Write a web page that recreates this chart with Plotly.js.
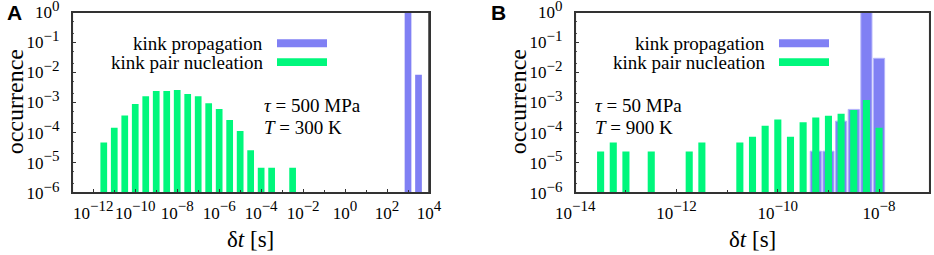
<!DOCTYPE html>
<html>
<head>
<meta charset="utf-8">
<script src="https://cdn.plot.ly/plotly-3.0.1.min.js"></script>
<style>
html,body{margin:0;padding:0;background:#fff;}
#chart{width:934px;height:255px;}
</style>
</head>
<body>
<div id="chart"></div>
<script>
// log10(δt / s) bin centres and occurrences
var aNucX = [-11.5,-11,-10.5,-10,-9.5,-9,-8.5,-8,-7.5,-7,-6.5,-6,-5.5,-5,-4.5,-4,-3.5,-2.5];
var aNucY = [4.7e-5,1.45e-4,3.7e-4,8.9e-4,1.6e-3,2.4e-3,2.4e-3,2.6e-3,1.9e-3,1.6e-3,9.4e-4,6.1e-4,2.6e-4,1.13e-4,2.6e-5,6.8e-6,6.8e-6,6.8e-6];
var aPropX = [3, 3.5];
var aPropY = [1, 8.3e-3];

var bNucX = [-13.5,-13.25,-13,-12.5,-11.75,-11.5,-10.75,-10.5,-10.25,-10,-9.75,-9.5,-9.25,-9,-8.75,-8.5,-8.25,-8];
var bNucY = [2.35e-5,4.7e-5,2.35e-5,2.35e-5,2.35e-5,4.7e-5,4.7e-5,7.3e-5,1.7e-4,2.7e-4,7.3e-5,2.2e-4,3.2e-4,3.6e-4,4.2e-4,5.6e-4,1.2e-3,1.45e-4];
var bPropX = [-9.25,-9,-8.75,-8.5,-8.25,-8];
var bPropY = [2.4e-5,2.4e-5,2.4e-4,5.9e-4,1,2.95e-2];

// tick positions and their exponent labels
var aXTickVals = [-12,-10,-8,-6,-4,-2,0,2,4];
var aXTickExp  = ['\u221212','\u221210','\u22128','\u22126','\u22124','\u22122','0','2','4'];
var bXTickVals = [-14,-12,-10,-8];
var bXTickExp  = ['\u221214','\u221212','\u221210','\u22128'];
var yTickVals  = [1e-6,1e-5,1e-4,1e-3,1e-2,1e-1,1];
var yTickExp   = ['\u22126','\u22125','\u22124','\u22123','\u22122','\u22121','0'];

var seriesNames = ['kink propagation','kink pair nucleation'];
var blue = '#8080f4';
var green = '#00f77c';
var FONT = 'Liberation Serif';

function powLabels(exps){
  return exps.map(function(e){ return '10<sup><span style="font-size:15px">' + e + '</span></sup>'; });
}

var data = [
  {type:'bar', x:aPropX, y:aPropY, width:0.32, xaxis:'x', yaxis:'y', name:seriesNames[0],
   marker:{color:blue, line:{width:0}}, showlegend:false},
  {type:'bar', x:aNucX, y:aNucY, width:0.32, xaxis:'x', yaxis:'y', name:seriesNames[1],
   marker:{color:green, line:{width:0}}, showlegend:false},
  {type:'bar', x:bPropX, y:bPropY, width:0.22, xaxis:'x2', yaxis:'y2', name:seriesNames[0],
   marker:{color:blue, line:{width:1, color:'#b4b4fa'}}, showlegend:false},
  {type:'bar', x:bNucX, y:bNucY, width:0.14, xaxis:'x2', yaxis:'y2', name:seriesNames[1],
   marker:{color:green, line:{width:0}}, showlegend:false}
];

function xAxis(dom, range, vals, exps, anchor){
  return {domain:dom, range:range, type:'linear', anchor:anchor,
    tickmode:'array', tickvals:vals, ticktext:powLabels(exps), tickangle:0,
    ticks:'inside', ticklen:4, tickcolor:'#333', tickwidth:1,
    minor:{dtick:1, ticks:'inside', ticklen:3, tickcolor:'#333', showgrid:false},
    showline:true, linecolor:'#333', linewidth:1.5, mirror:true, showgrid:false, zeroline:false,
    tickfont:{family:FONT, size:17, color:'#000'}, ticklabelstandoff:4,
    ticklabeloverflow:'allow', fixedrange:true};
}
function yAxis(anchor){
  return {domain:[0.2443,0.9518], type:'log', range:[-6,0], anchor:anchor,
    tickmode:'array', tickvals:yTickVals, ticktext:powLabels(yTickExp),
    ticks:'inside', ticklen:4, tickcolor:'#333', tickwidth:1,
    minor:{ticks:'inside', ticklen:2, tickcolor:'#555', showgrid:false},
    showline:true, linecolor:'#333', linewidth:1.5, mirror:true, showgrid:false, zeroline:false,
    tickfont:{family:FONT, size:17, color:'#000'}, ticklabelstandoff:8,
    ticklabeloverflow:'allow', fixedrange:true};
}

function px(x){return x/934;}
function py(y){return 1 - y/255;}

var annotations = [];
var shapes = [];
function ann(text, x, y, xa, size, extra){
  var a = {text:text, x:px(x), y:py(y), xref:'paper', yref:'paper', xanchor:xa, yanchor:'middle',
    showarrow:false, font:{family:FONT, size:size, color:'#000'}};
  for (var k in extra) a[k] = extra[k];
  annotations.push(a);
}
function panel(letter, letterX, axisLeft, axisRight, legTextRight, legSwL, legSwR, paramX, tauText, tText, xa, ya){
  // plot frame
  shapes.push({type:'rect', xref:xa+' domain', yref:ya+' domain', x0:0, x1:1, y0:0, y1:1,
    line:{color:'#333', width:1.5}, fillcolor:'rgba(0,0,0,0)', layer:'above'});
  ann('<b>'+letter+'</b>', letterX, 12, 'left', 21, {font:{family:'Liberation Sans', size:21, color:'#000'}});
  ann(seriesNames[0], legTextRight, 43, 'right', 19);
  ann(seriesNames[1], legTextRight, 62, 'right', 19);
  shapes.push({type:'rect', xref:'paper', yref:'paper', x0:px(legSwL), x1:px(legSwR), y0:py(47.3), y1:py(39.3), fillcolor:blue, line:{width:0}});
  shapes.push({type:'rect', xref:'paper', yref:'paper', x0:px(legSwL), x1:px(legSwR), y0:py(66), y1:py(58.3), fillcolor:green, line:{width:0}});
  ann(tauText, paramX, 105, 'left', 19);
  ann(tText, paramX, 127, 'left', 19);
  ann('occurrence', axisLeft - 57, 102, 'center', 24, {textangle:-90});
  ann('\u03b4<i>t</i> [s]', (axisLeft+axisRight)/2, 239, 'center', 23);
}
panel('A', 5, 72.3, 429, 265, 277, 327, 262, '<i>\u03c4</i> = 500 MPa', '<i>T</i> = 300 K', 'x', 'y');
panel('B', 489, 575.3, 929.7, 767, 779, 829, 593, '<i>\u03c4</i> = 50 MPa', '<i>T</i> = 900 K', 'x2', 'y2');

var layout = {
  width:934, height:255,
  font:{family:FONT, size:17, color:'#000'},
  margin:{l:0, r:0, t:0, b:0},
  paper_bgcolor:'#fff', plot_bgcolor:'#fff',
  barmode:'overlay', showlegend:false,
  xaxis: xAxis([px(72.3), px(429)], [-13, 4], aXTickVals, aXTickExp, 'y'),
  yaxis: yAxis('x'),
  xaxis2: xAxis([px(575.3), px(929.7)], [-14, -7], bXTickVals, bXTickExp, 'y2'),
  yaxis2: yAxis('x2'),
  annotations: annotations,
  shapes: shapes
};

Plotly.newPlot('chart', data, layout, {displayModeBar:false, staticPlot:true});
</script>
</body>
</html>
